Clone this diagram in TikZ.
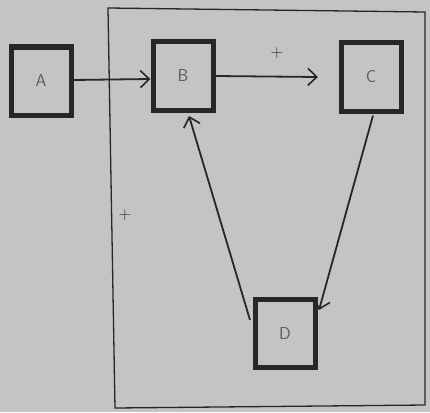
\documentclass[tikz,border=0pt]{standalone}
\usetikzlibrary{arrows.meta}
\definecolor{paper}{RGB}{196,197,195}
\definecolor{ink}{RGB}{40,38,38}
\begin{document}
\begin{tikzpicture}[x=1pt,y=-1pt,
  blk/.style={draw=ink,line width=5pt,minimum width=60pt,minimum height=68pt,inner sep=0pt,font=\sffamily\LARGE,text=ink!75},
  conn/.style={draw=ink,line width=1.8pt,-{Straight Barb[length=9pt,width=17pt,line width=1.6pt]}},
  lbl/.style={font=\sffamily\LARGE,text=ink}]
\fill[paper] (0,0) rectangle (430,412);
\useasboundingbox (0,0) rectangle (430,412);
\draw[ink,line width=1.3pt] (108,8) -- (425,12) -- (425,405) -- (115,408) -- cycle;
\node[blk] (A) at (41,81) {A};
\node[blk] (B) at (183,76) {B};
\node[blk] (C) at (371,77) {C};
\node[blk] (D) at (285,333) {D};
\coordinate (cend) at (318,77);
\draw[conn] (A.east |- 0,80) -- (B.west |- 0,79);
\draw[conn] (B.east) -- (cend);
\draw[conn] (C.south) ++(2,2) -- (319,310);
\draw[conn] (250,320) -- (189,116);
\node[lbl] at (277,53) {+};
\node[lbl] at (125,215) {+};
\end{tikzpicture}
\end{document}
